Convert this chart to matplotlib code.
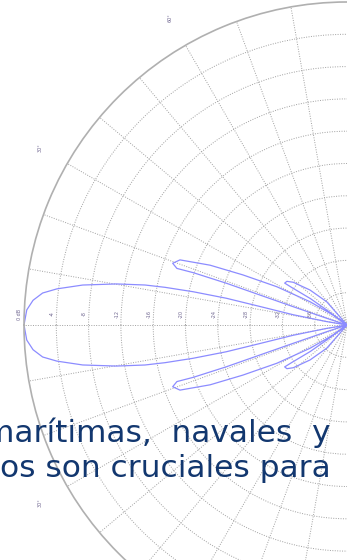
import matplotlib
matplotlib.use("Agg")
import matplotlib.pyplot as plt
import matplotlib.transforms as mtransforms
import numpy as np

# traced radiation pattern, upper half (angle from main lobe in deg, level in dB)
theta_up = [0, 2.7, 4.5, 6.0, 7.1, 8.6, 10.1, 11.2, 11.7, 12.2, 12.5, 12.0, 10.8, 9.5, 8.5,
            18.0, 18.3, 18.8, 19.0, 19.1, 18.8, 18.4, 19.5, 21.3, 23.6, 25.7, 28.6, 32.2, 35.5, 36.0,
            36.5, 35.8, 34.2, 33.9, 36.0, 38.5, 43.4, 48.9, 53.0]
level_up = [0, -0.3, -1.0, -2.1, -3.8, -6.9, -11.0, -14.5, -17.0, -20.5, -24.7, -29.0, -33.2, -37.4, -40,
            -40, -37.4, -33.0, -28.6, -24.2, -19.9, -17.8, -17.1, -17.8, -21.5, -25.7, -30.1, -34.6, -37.9, -40,
            -36.9, -34.4, -31.8, -30.7, -30.8, -31.5, -33.7, -36.2, -40]

ring_db = [-4, -8, -12, -16, -20, -24, -28, -32, -36]
ring_labels = ["-4", "-8", "-12", "-16", "-20", "-24", "-28", "-32", "-36"]
angle_ticks = [60, 30, -30]
angle_labels = ["60°", "30°", "30°"]

text_lines = ["marítimas,  navales  y", "os son cruciales para"]

DB_MIN = -40

fig = plt.figure(figsize=(3.47, 5.6), dpi=100)

# polar axes centred on the right edge, radius 323 px
ax = fig.add_axes([24 / 347, -88 / 560, 646 / 347, 646 / 560], projection="polar")
ax.set_theta_zero_location("W")
ax.set_theta_direction(-1)
ax.set_ylim(0, -DB_MIN)

theta = [-t for t in reversed(theta_up)] + theta_up
level = list(reversed(level_up)) + level_up
r = np.clip(np.array(level) - DB_MIN, 0, None)
ax.plot(np.deg2rad(theta), r, color="#8c8cff", lw=0.9)

ax.set_xticks(np.deg2rad(np.arange(0, 360, 10)))
ax.set_xticklabels([])
ax.set_yticks([d - DB_MIN for d in ring_db])
ax.set_yticklabels([])
ax.grid(True, color="#a0a0a0", linestyle=(0, (1, 1.5)), lw=0.7)
ax.tick_params(length=0)
ax.spines["polar"].set_color("#b0b0b0")
ax.spines["polar"].set_linewidth(1.2)

lab_tr = mtransforms.offset_copy(ax.transData, fig=fig, x=-4, y=11, units="dots")
for d, lab in zip(ring_db, ring_labels):
    ax.text(0, d - DB_MIN, lab, transform=lab_tr, rotation=90, fontsize=3.5,
            color="#6f6690", ha="center", va="center")
ax.text(0, 0 - DB_MIN, "0 dB", transform=lab_tr, rotation=90, fontsize=3.5,
        color="#6f6690", ha="center", va="center")

for a, lab in zip(angle_ticks, angle_labels):
    ax.text(np.deg2rad(a), 43.9, lab, rotation=90, fontsize=3.5, color="#6f6690",
            ha="center", va="center", clip_on=False)

fig.text(331 / 347, (560 - 442) / 560, text_lines[0], ha="right", va="baseline",
         fontsize=22.5, color="#12376f", family="DejaVu Sans")
fig.text(331 / 347, (560 - 477) / 560, text_lines[1], ha="right", va="baseline",
         fontsize=22.5, color="#12376f", family="DejaVu Sans")

fig.savefig("out.png", dpi=100)
plt.close(fig)
